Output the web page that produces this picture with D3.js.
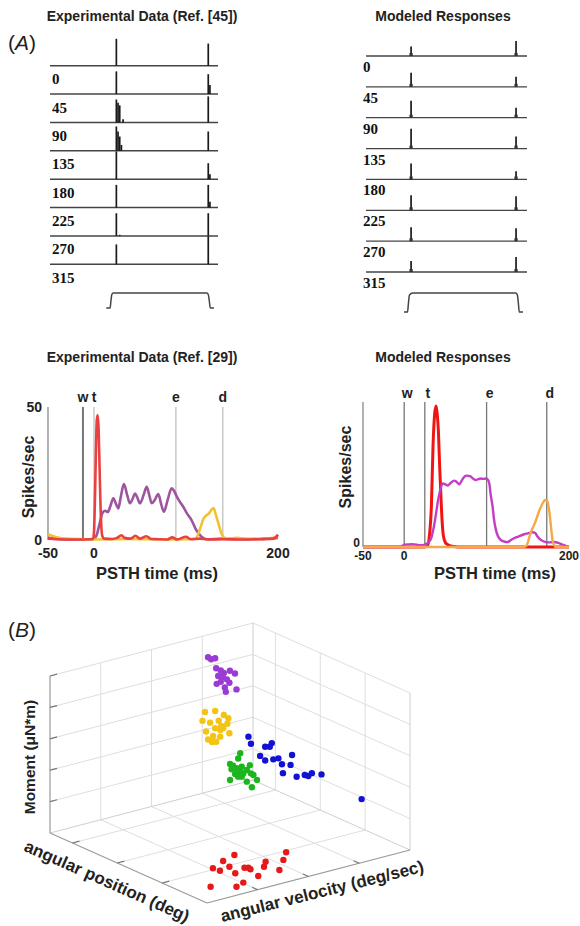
<!DOCTYPE html>
<html>
<head>
<meta charset="utf-8">
<script src="https://cdnjs.cloudflare.com/ajax/libs/d3/7.8.5/d3.min.js"></script>
<style>
  body { margin: 0; background: #fff; }
  svg { display: block; }
</style>
</head>
<body>
<svg id="s" width="580" height="926"></svg>
<script>
// ---- panel A, rasters ----
const directions = ['0', '45', '90', '135', '180', '225', '270', '315'];
// Ref. [45]: rate per 10 ms bin, from onset / offset of the ramp
const expOnset = [[96], [81], [82, 70, 61, 0, 11], [87, 69, 51, 21], [99], [81], [81, 0, 4], [71]];
const expOffset = [[79], [71, 32], [93], [69], [57, 18], [81, 21], [81], [100]];
// modeled spikes
const modOnset = [34, 50, 61, 71, 57, 54, 50, 39];
const modOffset = [54, 36, 36, 43, 29, 50, 46, 54];
// stimulus (ms, fraction of amplitude)
const expStim = [[335, 0], [358, 0], [363, 0.5], [368, 0.9], [376, 1], [934, 1], [942, 0.9], [948, 0.5], [954, 0], [976, 0]];
const modStim = [[236, 0], [258, 0], [264, 0.5], [270, 0.9], [290, 1], [930, 1], [940, 0.9], [946, 0.5], [952, 0], [975, 0]];

// ---- panel A, PSTH (ms, spikes/sec) ----
const expEvents = [['w', -12], ['t', 0], ['e', 89], ['d', 140]];
const modEvents = [['w', 0], ['t', 25], ['e', 100], ['d', 173]];
const expRed = [[-50, 0.5], [-40, 0.3], [-20, 0.2], [-5, 0.3], [-1, 0.4], [0, 3], [1, 15], [2, 32], [3, 45], [4, 47], [5, 42], [6, 28], [7, 14], [8, 5], [9, 1.5], [11, 0.5], [20, 0.4], [25, 0.8], [30, 1.8], [33, 0.8], [40, 0.5], [45, 1.6], [50, 0.5], [57, 1.4], [62, 0.4], [70, 0.3], [80, 0.2], [85, 1.0], [90, 0.2], [100, 1.2], [105, 0.3], [115, 0.5], [125, 0.2], [140, 0.3], [160, 0.2], [180, 0.3], [195, 0.5], [200, 2]];
const expPurple = [[-50, 0.8], [-40, 0.4], [-20, 0.2], [-5, 0.3], [0, 0.5], [3, 2], [6, 6], [9, 10], [12, 11], [15, 10.5], [18, 13], [21, 15.7], [24, 13.5], [26.5, 11.9], [29, 16], [32.5, 21], [36, 17], [39, 13.8], [42, 15.5], [44.6, 17.5], [47, 16], [50, 13.8], [54, 17], [57.3, 20], [60, 17], [62.7, 13.8], [66, 15], [69.9, 17.3], [73, 13.5], [76, 10.6], [80, 15], [84.4, 19.4], [87, 18.5], [90, 16.3], [94, 14], [97, 12.5], [101, 10], [106, 7.5], [110, 4.5], [115, 1.9], [122, 0.3], [140, 0.5], [160, 0.3], [180, 0.4], [200, 0.8]];
const expGold = [[-50, 2.2], [-45, 1.5], [-38, 0.8], [-30, 0.5], [-10, 0.3], [0, 0.2], [20, 0.3], [40, 0.4], [60, 0.3], [80, 0.2], [100, 0.3], [110, 0.5], [113, 2], [116, 5], [119, 8], [122, 9.2], [125, 10], [128, 11.5], [130, 12], [132, 10], [135, 6.5], [138, 3], [141, 1], [145, 0.5], [155, 0.8], [165, 0.5], [180, 0.4], [195, 0.8], [200, 1.5]];
const modRed = [[-50, 0], [25, 0], [28, 0.3], [31, 5], [33, 14], [35, 35], [37, 46], [38.7, 48.6], [40, 46], [41.5, 40], [43, 28], [44.5, 18], [46, 9], [47.5, 4], [50, 1.5], [53, 0.8], [60, 0.2], [70, 0], [200, 0]];
const modMagenta = [[-50, 0], [-5, 0], [0, 0.8], [10, 1], [20, 0.6], [25, 0.8], [29, 1.5], [32.7, 3], [36, 7], [38.7, 11.6], [41, 16], [42.8, 18.5], [45, 21], [46.8, 21.9], [50, 21.6], [52.8, 21.2], [56, 22], [60.8, 22.9], [63, 22.6], [66.9, 21.6], [70, 23], [72.9, 24.2], [76, 24.6], [79.8, 24.4], [84, 23.5], [87.1, 23.1], [90, 23.4], [93.2, 23.6], [96, 23.5], [99.2, 23.6], [101, 23.4], [103.3, 21.9], [105, 18], [107.3, 13.9], [109, 9.5], [111.3, 5.9], [114, 3.6], [117.4, 2.4], [121, 1.9], [125.5, 1.7], [130, 2.5], [135.6, 3.3], [140, 3.8], [145.7, 4.4], [150, 4.7], [155.8, 5.1], [159, 4.8], [161.8, 3.6], [165, 2.6], [171.9, 1.7], [176, 1.6], [182, 1.7], [187, 1.4], [192, 0.8], [196, 0.4], [200, 0]];
const modOrange = [[-50, 0], [145, 0], [148, 0.3], [150, 1.5], [152, 3.6], [155, 6], [158, 7.8], [160, 9.3], [163, 11.8], [166, 13.9], [168.5, 15.3], [171, 16.2], [173, 16], [174.5, 15], [176, 12.5], [177.3, 9.3], [178.7, 5.5], [180, 2.4], [182, 0.7], [184, 0], [200, 0]];

// ---- panel B, [velocity deg/s, position deg, moment uN*m] ----
const velDomain = [0, 400], posDomain = [-10, 60], momDomain = [0, 50];
const velTicks = [100, 200, 300], posTicks = [0, 20, 40], momTicks = [10, 20, 30, 40, 50];
const purplePts = [[296, -6.5, 44.6], [302, -6.5, 43.7], [310, -6.5, 43.7], [312, -6.5, 40.4], [321, -6.5, 39.3], [327, -6.5, 38.3], [339, -6.5, 38.5], [349, -6.5, 37.2], [316, -6.5, 37.8], [325, -6.5, 37.0], [333, -6.5, 36.0], [321, -6.5, 35.7], [338, -6.5, 34.7], [313, -6.5, 35.4], [329, -6.5, 33.6], [352, -6.5, 32.0], [331, -6.5, 32.1]];
const yellowPts = [[290, -6.5, 27.4], [310, -6.5, 26.9], [327, -6.5, 24.9], [336, -6.5, 23.5], [285, -6.5, 24.8], [300, -6.5, 23.6], [317, -6.5, 23.5], [322, -6.5, 21.6], [334, -6.5, 21.8], [310, -6.5, 21.4], [320, -6.5, 20.4], [326, -6.5, 20.8], [338, -6.5, 18.6], [292, -6.5, 21.1], [296, -6.5, 18.4], [306, -6.5, 19.1], [320, -6.5, 18.3], [312, -6.5, 17.0], [304, -6.5, 17.3]];
const greenPts = [[282, 11, 20.2], [278, 11, 18.7], [301, 11, 15.6], [262, 11, 17.6], [268, 11, 16.8], [285, 11, 15.8], [265, 11, 15.8], [275, 11, 15.7], [295, 11, 14.3], [282, 11, 14.3], [288, 11, 13.5], [303, 11, 12.9], [278, 11, 12.9], [285, 11, 12.6], [262, 11, 12.5], [295, 11, 10.6], [315, 11, 10.3], [305, 11, 8.4], [272, 11, 14.0], [308, 11, 12.2]];
const bluePts = [[159, 42.5, 40.7], [164, 42.5, 38.2], [192, 42.5, 36.1], [201, 42.5, 35.7], [205, 42.5, 36.7], [182, 42.5, 33.6], [192, 42.5, 31.7], [208, 42.5, 31.4], [218, 42.5, 31.3], [225, 42.5, 29.1], [245, 42.5, 31.2], [242, 42.5, 28.2], [227, 42.5, 26.2], [254, 42.5, 23.9], [270, 42.5, 23.8], [277, 42.5, 23.2], [284, 42.5, 23.8], [303, 42.5, 22.6], [382, 42.5, 11.4]];
const redPts = [[168, 34.2, 0], [240, 41.0, 0], [137, 36.2, 0], [129, 40.8, 0], [104, 39.1, 0], [106, 41.8, 0], [145, 43.9, 0], [150, 44.5, 0], [148, 45.9, 0], [188, 43.6, 0], [172, 46.5, 0], [215, 45.4, 0], [118, 45.9, 0], [139, 51.4, 0], [182, 51.1, 0], [102, 53.1, 0], [50, 50.3, 0], [82, 54.6, 0]];

const svg = d3.select('#s');
const sans = 'Liberation Sans, Arial, sans-serif';
const serif = 'Liberation Serif, Times New Roman, serif';

function label(g, x, y, txt, o = {}) {
  return g.append('text')
    .attr('x', x).attr('y', y)
    .attr('font-family', o.family || sans)
    .attr('font-size', o.size || 14)
    .attr('font-weight', o.weight || 'bold')
    .attr('text-anchor', o.anchor || 'middle')
    .attr('fill', o.fill || '#222')
    .text(txt);
}

function panelTag(x, y, letter) {
  const t = svg.append('text').attr('x', x).attr('y', y)
    .attr('font-family', sans).attr('font-size', 21).attr('fill', '#222');
  t.append('tspan').text('(');
  t.append('tspan').attr('font-style', 'italic').text(letter);
  t.append('tspan').text(')');
}

// raster + stimulus panel
function raster(cfg) {
  const g = svg.append('g');
  const x = d3.scaleLinear([0, 1000], cfg.xr);
  const row = d3.scalePoint(directions, cfg.yr);
  const rate = d3.scaleLinear([0, 100], [0, 28]);
  const binMs = 10;
  directions.forEach((d, i) => {
    const y0 = row(d);
    g.append('line')
      .attr('x1', cfg.xr[0]).attr('x2', cfg.xr[1])
      .attr('y1', y0).attr('y2', y0)
      .attr('stroke', '#444').attr('stroke-width', cfg.baseW);
    [[cfg.onsetT, cfg.onset[i]], [cfg.offsetT, cfg.offset[i]]].forEach(([t0, bins]) => {
      [].concat(bins).forEach((r, k) => {
        if (!r) return;
        const xx = x(t0 + k * binMs);
        g.append('line')
          .attr('x1', xx).attr('x2', xx)
          .attr('y1', y0).attr('y2', y0 - rate(r))
          .attr('stroke', '#1a1a1a').attr('stroke-width', 1.7);
        if (cfg.foot) {
          g.append('rect').attr('x', xx - 1.6).attr('y', y0 - 3)
            .attr('width', 3.2).attr('height', 3).attr('fill', '#333');
        }
      });
    });
    label(g, cfg.labelX, y0 + cfg.labelDy, d, { family: serif, size: 15, anchor: 'start', fill: '#111' });
  });
  const sy = d3.scaleLinear([0, 1], cfg.stimY);
  g.append('path').datum(cfg.stim)
    .attr('d', d3.line(p => x(p[0]), p => sy(p[1])).curve(d3.curveMonotoneX))
    .attr('fill', 'none').attr('stroke', '#444').attr('stroke-width', 1.5);
  label(g, cfg.titleX, 21, cfg.title, { size: 14 });
}

raster({
  title: 'Experimental Data (Ref. [45])', titleX: 142,
  xr: [50, 218], yr: [65.7, 264.3], baseW: 1.5,
  onset: expOnset, offset: expOffset, onsetT: 395, offsetT: 942,
  labelX: 52, labelDy: 18.5, stim: expStim, stimY: [308, 293]
});
raster({
  title: 'Modeled Responses', titleX: 443,
  xr: [366, 527], yr: [56, 272], baseW: 1.3, foot: true,
  onset: modOnset, offset: modOffset, onsetT: 280, offsetT: 932,
  labelX: 363, labelDy: 16, stim: modStim, stimY: [312, 293]
});

// PSTH panel
function psth(cfg) {
  const g = svg.append('g');
  const x = d3.scaleLinear([-50, 200], cfg.xr);
  const y = d3.scaleLinear([0, 50], cfg.yr);
  g.append('line').attr('x1', x(-50)).attr('x2', x(-50)).attr('y1', y(0)).attr('y2', y(50))
    .attr('stroke', '#888').attr('stroke-width', 1.3);
  if (cfg.frame) {
    g.append('line').attr('x1', x(-50)).attr('x2', x(200)).attr('y1', y(0)).attr('y2', y(0))
      .attr('stroke', '#888').attr('stroke-width', 1.3);
  }
  cfg.events.forEach(([name, t], i) => {
    g.append('line').attr('x1', x(t)).attr('x2', x(t)).attr('y1', y(0)).attr('y2', y(50))
      .attr('stroke', cfg.eventColor[i]).attr('stroke-width', cfg.eventW[i]);
    label(g, x(t) + cfg.evDx, cfg.evY, name, { size: 14 });
  });
  const line = d3.line(p => x(p[0]), p => y(p[1])).curve(d3.curveMonotoneX);
  cfg.series.forEach(([data, color, w]) => {
    g.append('path').datum(data).attr('d', line)
      .attr('fill', 'none').attr('stroke', color).attr('stroke-width', w)
      .attr('stroke-linejoin', 'round');
  });
  cfg.yLabels.forEach(v => label(g, x(-50) - cfg.yDx, y(v) + cfg.yOff, v, { size: cfg.tickSize, anchor: 'end' }));
  [-50, 0, 200].forEach(v => label(g, x(v), cfg.tickY, v, { size: cfg.tickSize }));
  label(g, cfg.ylabX, cfg.ylabY, 'Spikes/sec', { size: 16 })
    .attr('transform', `rotate(-90 ${cfg.ylabX} ${cfg.ylabY})`).attr('dy', '0.35em');
  label(g, cfg.xlabX, 579, 'PSTH time (ms)', { size: 16.5 });
  label(g, cfg.titleX, 362, cfg.title, { size: 14 });
}

psth({
  title: 'Experimental Data (Ref. [29])', titleX: 142,
  xr: [48, 278], yr: [540, 407],
  events: expEvents, eventColor: ['#777', '#bbb', '#bbb', '#bbb'], eventW: [2, 1.2, 1.2, 1.2],
  evDx: 0, evY: 402,
  series: [[expPurple, '#9d55a0', 2.6], [expGold, '#f2c232', 2.6], [expRed, '#ea4040', 2.6]],
  yLabels: [50, 0], yDx: 6, yOff: 5, tickSize: 14, tickY: 558,
  ylabX: 28, ylabY: 477, xlabX: 157
});
psth({
  title: 'Modeled Responses', titleX: 443, frame: true,
  xr: [363, 569], yr: [547, 402],
  events: modEvents, eventColor: ['#777', '#777', '#777', '#777'], eventW: [1.3, 1.3, 1.3, 1.3],
  evDx: 3, evY: 398,
  series: [[modRed, '#f01414', 3], [modMagenta, '#c43dc4', 2.4], [modOrange, '#f6a846', 2.4]],
  yLabels: [0], yDx: 3, yOff: 0, tickSize: 12, tickY: 560,
  ylabX: 345, ylabY: 467, xlabX: 495
});

// ---- panel B, 3-D scatter ----
const box = { ox: 50, oy: 833, ax: 157, ay: 70, bx: 203, by: -53, cz: -157 };
const sv = d3.scaleLinear(velDomain, [0, 1]);
const sp = d3.scaleLinear(posDomain, [0, 1]);
const sm = d3.scaleLinear(momDomain, [0, 1]);
const proj = (v, p, m) => [
  box.ox + box.ax * sp(p) + box.bx * sv(v),
  box.oy + box.ay * sp(p) + box.by * sv(v) + box.cz * sm(m)
];
const [v0, v1] = velDomain, [p0, p1] = posDomain, [m0, m1] = momDomain;
const gB = svg.append('g');
const seg = (a, b, color, w) => gB.append('line')
  .attr('x1', a[0]).attr('y1', a[1]).attr('x2', b[0]).attr('y2', b[1])
  .attr('stroke', color).attr('stroke-width', w);

const grid = '#dedede';
velTicks.forEach(v => {
  seg(proj(v, p0, m0), proj(v, p0, m1), grid, 1);
  seg(proj(v, p0, m0), proj(v, p1, m0), grid, 1);
});
posTicks.forEach(p => {
  seg(proj(v1, p, m0), proj(v1, p, m1), grid, 1);
  seg(proj(v0, p, m0), proj(v1, p, m0), grid, 1);
});
momTicks.forEach(m => {
  seg(proj(v0, p0, m), proj(v1, p0, m), grid, 1);
  seg(proj(v1, p0, m), proj(v1, p1, m), grid, 1);
});
const edge = '#cfcfcf';
seg(proj(v1, p0, m0), proj(v1, p0, m1), edge, 1);
seg(proj(v1, p1, m0), proj(v1, p1, m1), edge, 1);
seg(proj(v0, p0, m0), proj(v1, p0, m0), edge, 1);
seg(proj(v1, p0, m0), proj(v1, p1, m0), edge, 1);
const axisC = '#9a9a9a';
seg(proj(v0, p0, m0), proj(v0, p0, m1), axisC, 1.2);
seg(proj(v0, p0, m0), proj(v0, p1, m0), axisC, 1.2);
seg(proj(v0, p1, m0), proj(v1, p1, m0), axisC, 1.2);
momTicks.forEach(m => seg(proj(v0, p0, m), proj(v0 + 14, p0, m), '#777', 1.2));
posTicks.forEach(p => seg(proj(v0, p, m0), proj(v0 + 14, p, m0), '#777', 1.2));
velTicks.forEach(v => seg(proj(v, p1, m0), proj(v, p1 - 2.5, m0), '#777', 1.2));

[[purplePts, '#9a3cd4'], [yellowPts, '#f4c414'], [greenPts, '#1db51d'], [bluePts, '#1212d2'], [redPts, '#e41a1a']]
  .forEach(([pts, color]) => {
    gB.append('g').selectAll('circle').data(pts).join('circle')
      .attr('cx', d => proj(...d)[0])
      .attr('cy', d => proj(...d)[1])
      .attr('r', 3.2)
      .attr('fill', color);
  });

label(gB, 30, 757, 'Moment (\u03bcN*m)', { size: 15.5 })
  .attr('transform', 'rotate(-90 30 757)').attr('dy', '0.35em');
label(gB, 107, 881, 'angular position (deg)', { size: 17 })
  .attr('transform', 'rotate(23.8 107 881)').attr('dy', '0.35em');
label(gB, 322, 891, 'angular velocity (deg/sec)', { size: 17 })
  .attr('transform', 'rotate(-14 322 891)').attr('dy', '0.35em');

panelTag(8, 50, 'A');
panelTag(8, 637, 'B');
</script>
</body>
</html>
